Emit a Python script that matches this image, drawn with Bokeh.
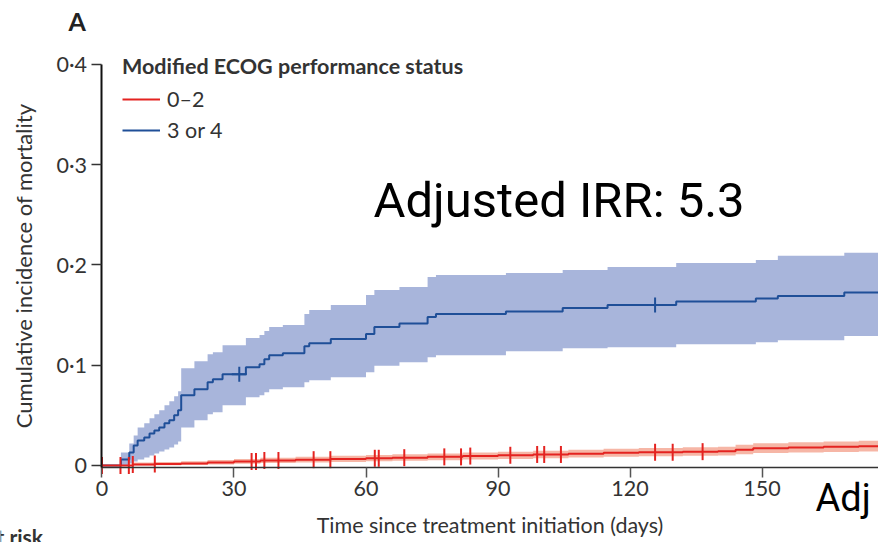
import numpy as np
from bokeh.plotting import figure
from bokeh.models import Range1d, Label, Legend, LegendItem, FixedTicker, CustomJSTickFormatter
from bokeh.embed import file_html
from bokeh.resources import INLINE

# ---------------- data ----------------
followup_end = 178

# Modified ECOG 3 or 4 (blue)
blue_time = [0, 4.3, 6.2, 7.2, 8.1, 9.6, 10.8, 11.9, 13.0, 14.2, 15.3, 16.4, 17.3, 18.0,
             21.0, 24.0, 25.2, 27.4, 32.7, 35.8, 36.9, 38.0, 41.1, 46.0, 47.1, 52.0,
             60.0, 61.9, 67.6, 74.0, 75.9, 91.8, 104.7, 114.9, 130.5, 148.6, 153.6, 168.7]
blue_cif = [0, 0.006, 0.013, 0.02, 0.025, 0.028, 0.032, 0.035, 0.038, 0.042, 0.045, 0.05, 0.055, 0.07,
            0.076, 0.083, 0.086, 0.091, 0.098, 0.101, 0.106, 0.11, 0.112, 0.119, 0.122, 0.126,
            0.131, 0.138, 0.1416, 0.148, 0.151, 0.1535, 0.157, 0.16, 0.1635, 0.1665, 0.169, 0.1725]
blue_lower = [0, 0, 0.002, 0.004, 0.006, 0.008, 0.01, 0.012, 0.014, 0.016, 0.018, 0.021, 0.024, 0.038,
              0.045, 0.051, 0.053, 0.06, 0.068, 0.07, 0.073, 0.076, 0.078, 0.083, 0.085, 0.088,
              0.093, 0.0995, 0.103, 0.108, 0.11, 0.114, 0.117, 0.118, 0.121, 0.123, 0.125, 0.129]
blue_upper = [0, 0.013, 0.022, 0.03, 0.038, 0.042, 0.047, 0.051, 0.055, 0.06, 0.064, 0.069, 0.074, 0.097,
              0.104, 0.111, 0.113, 0.12, 0.127, 0.13, 0.134, 0.138, 0.14, 0.151, 0.155, 0.16,
              0.17, 0.175, 0.178, 0.188, 0.19, 0.192, 0.195, 0.198, 0.202, 0.205, 0.209, 0.212]
blue_censor = [31.2, 125.7]

# Modified ECOG 0-2 (red)
red_time = [0, 7, 12, 18, 24, 30, 36, 44, 52, 60, 66, 74, 82, 90, 98, 106, 114, 122, 132,
            140, 144, 148, 156, 164, 172]
red_cif = [0, 0.001, 0.0015, 0.002, 0.003, 0.004, 0.005, 0.0058, 0.0065, 0.0072, 0.0078, 0.0086,
           0.0094, 0.0102, 0.011, 0.0118, 0.0126, 0.0132, 0.0138, 0.0143, 0.0158, 0.0172, 0.018,
           0.0186, 0.0193]
red_lower = [0, 0, 0.0003, 0.0006, 0.001, 0.0017, 0.0025, 0.003, 0.0036, 0.0042, 0.0047, 0.0053,
             0.006, 0.0066, 0.0073, 0.008, 0.0086, 0.0091, 0.0096, 0.01, 0.0112, 0.0124, 0.013,
             0.0135, 0.014]
red_upper = [0, 0.003, 0.0035, 0.0042, 0.0054, 0.0066, 0.0078, 0.0088, 0.0096, 0.0104, 0.0111,
             0.012, 0.0129, 0.0138, 0.0148, 0.0157, 0.0167, 0.0175, 0.0182, 0.0188, 0.0206,
             0.0222, 0.0232, 0.024, 0.0248]
red_censor = [0, 4.2, 6.1, 7.0, 12.0, 34.0, 35.0, 36.9, 40.1, 48.1, 51.9, 62.0, 62.9, 68.7,
              77.8, 81.6, 83.7, 92.8, 98.9, 100.5, 104.3, 125.7, 129.7, 136.5]

x_ticks = [0, 30, 60, 90, 120, 150]
y_ticks = [0, 0.1, 0.2, 0.3, 0.4]

group_labels = ["0\u20132", "3 or 4"]
legend_title = "Modified ECOG performance status"
x_label = "Time since treatment initiation (days)"
y_label = "Cumulative incidence of mortality"
panel_letter = "A"
irr_text = "Adjusted IRR: 5.3"
irr_next_text = "Adj"
risk_table_title = "Number at risk"

# ---------------- styles ----------------
RED = "#e42320"
RED_BAND = "#f5ae9c"
BLUE = "#1f4f98"
BLUE_BAND = "#a8b5db"
TXT = "#333333"
FONT = "Lato"
FS = "21.5px"
W, H = 878, 542


def extend(t, v):
    return np.append(np.array(t, float), followup_end), np.append(np.array(v, float), v[-1])


def at(times, values, pts):
    idx = np.searchsorted(np.array(times), np.array(pts), side="right") - 1
    return np.array(values)[idx]


# the frame covers the whole canvas; axes are pinned inside it with fixed_location
p = figure(width=W, height=H, output_backend="svg", toolbar_location=None,
           x_range=Range1d(-23.068, 176.477), y_range=Range1d(-0.07677, 0.46361),
           min_border_left=0, min_border_right=0, min_border_top=0, min_border_bottom=0)
p.outline_line_color = None
p.grid.visible = False
p.background_fill_color = "white"
p.border_fill_color = "white"

bx, bl = extend(blue_time, blue_lower)
_, bu = extend(blue_time, blue_upper)
_, bc = extend(blue_time, blue_cif)
rx, rl = extend(red_time, red_lower)
_, ru = extend(red_time, red_upper)
_, rc = extend(red_time, red_cif)

p.varea_step(x=bx, y1=bl, y2=bu, step_mode="after", fill_color=BLUE_BAND, fill_alpha=1.0)
blue_line = p.step(bx, bc, mode="after", line_color=BLUE, line_width=2)
p.varea_step(x=rx, y1=rl, y2=ru, step_mode="after", fill_color=RED_BAND, fill_alpha=0.9)
red_line = p.step(rx, rc, mode="after", line_color=RED, line_width=2)

p.scatter(red_censor, at(red_time, red_cif, red_censor), marker="dash", angle=np.pi / 2,
          size=17, line_color=RED, line_width=2)
p.scatter(blue_censor, at(blue_time, blue_cif, blue_censor), marker="cross",
          size=15, line_color=BLUE, line_width=2)

# axes
xa = p.xaxis[0]
xa.ticker = FixedTicker(ticks=x_ticks)
xa.axis_label = x_label
xa.fixed_location = -0.002
xa.bounds = (0, 176.477)
ya = p.yaxis[0]
ya.ticker = FixedTicker(ticks=y_ticks)
ya.axis_label = y_label
ya.fixed_location = 0
ya.bounds = (-0.002, 0.4)
ya.formatter = CustomJSTickFormatter(code="return tick == 0 ? '0' : tick.toFixed(1).replace('.', '\u00b7');")

for ax in (xa, ya):
    ax.minor_tick_line_color = None
    ax.major_tick_in = 0
    ax.major_tick_out = 10
    ax.major_label_text_font = FONT
    ax.major_label_text_font_size = FS
    ax.major_label_text_color = TXT
    ax.axis_label_text_font = FONT
    ax.axis_label_text_font_size = "22px"
    ax.axis_label_text_font_style = "normal"
    ax.axis_label_text_color = TXT
xa.axis_line_color = "#333333"
xa.axis_line_width = 1.5
xa.major_tick_line_color = "#555555"
xa.major_tick_line_width = 1.5
xa.major_label_standoff = 3
xa.axis_label_standoff = 13
xa.axis_label_text_font_size = FS
ya.axis_line_color = "#111111"
ya.axis_line_width = 2
ya.major_tick_line_color = "#333333"
ya.major_tick_line_width = 1.5
ya.major_label_standoff = 5
ya.axis_label_standoff = 16

legend = Legend(items=[LegendItem(label=group_labels[0], renderers=[red_line]),
                       LegendItem(label=group_labels[1], renderers=[blue_line])],
                location=(122, H - 143), title=legend_title,
                title_text_font=FONT, title_text_font_size=FS, title_text_font_style="bold",
                title_text_color=TXT, title_standoff=7,
                label_text_font=FONT, label_text_font_size=FS, label_text_color=TXT,
                glyph_width=38, glyph_height=20, label_standoff=7, spacing=5,
                padding=0, margin=0, border_line_color=None, background_fill_alpha=0)
p.add_layout(legend)

# free texts (screen positions, measured from the top of the canvas)
p.add_layout(Label(x=68, y=H - 20, x_units="screen", y_units="screen", text=panel_letter,
                   text_baseline="alphabetic",
                   text_font=FONT, text_font_size="25px", text_font_style="bold", text_color="#222222"))
p.add_layout(Label(x=373, y=H - 200, x_units="screen", y_units="screen", text=irr_text,
                   text_baseline="alphabetic",
                   text_font="Roboto", text_font_size="49px", text_color="black"))
p.add_layout(Label(x=815, y=H - 497, x_units="screen", y_units="screen", text=irr_next_text,
                   text_baseline="alphabetic",
                   text_font="Roboto", text_font_size="38px", text_color="black"))
p.add_layout(Label(x=43, y=H - 535.5, x_units="screen", y_units="screen", text=risk_table_title,
                   text_baseline="alphabetic", text_align="right",
                   text_font=FONT, text_font_size="21px", text_font_style="bold", text_color=TXT))

open("out.html", "w").write(file_html(p, INLINE))
